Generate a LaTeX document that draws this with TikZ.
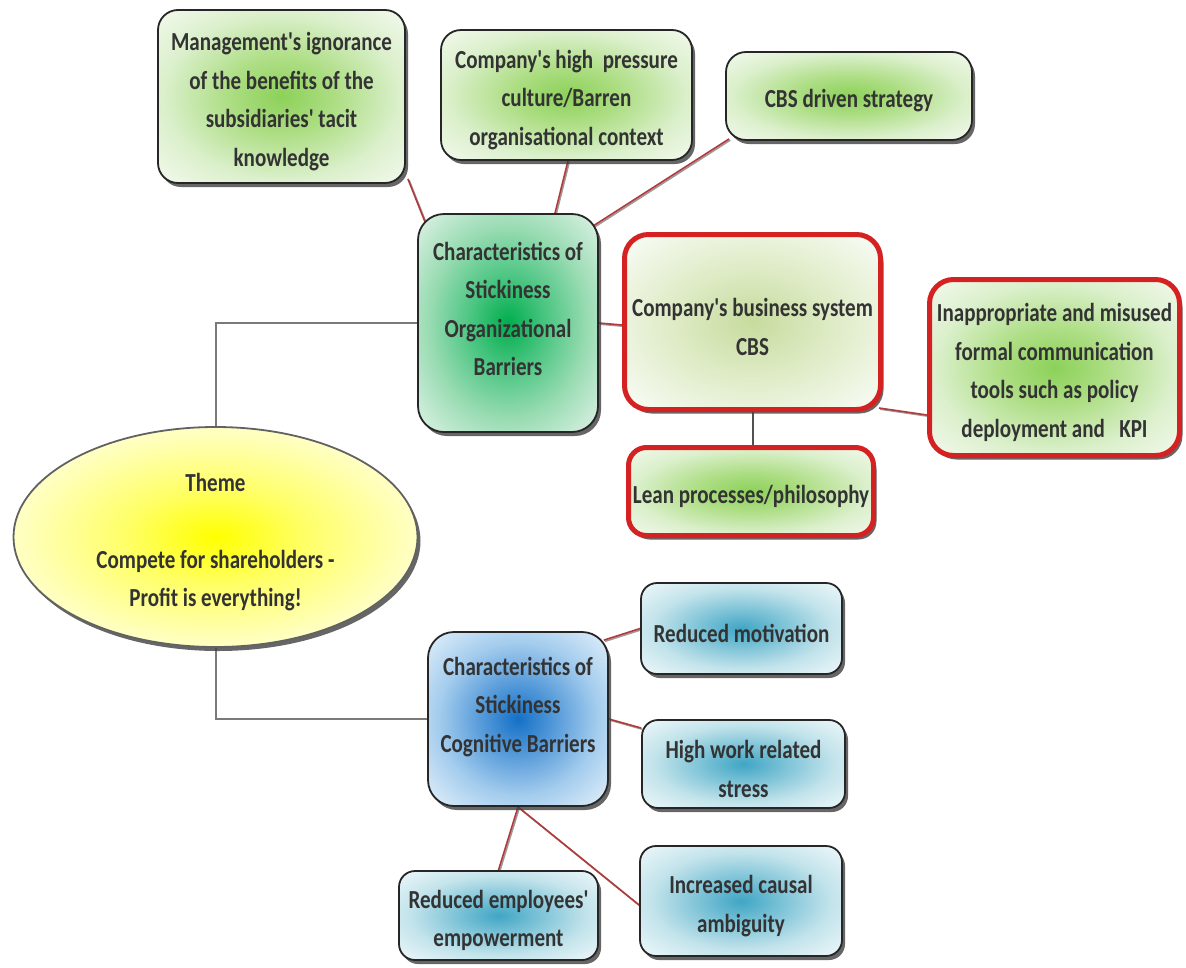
\documentclass[tikz,border=0pt]{standalone}
\usepackage{fontspec}
\newfontfamily\lab{Carlito Bold}[FakeStretch=0.81]
\usetikzlibrary{shapes.geometric,shadows}

\definecolor{ink}{HTML}{333333}
\definecolor{rim}{HTML}{262626}
\definecolor{alert}{HTML}{D42222}
\definecolor{linkred}{HTML}{B23A3A}
\definecolor{linkgrey}{HTML}{9A9A9A}
\definecolor{elbow}{HTML}{7A7A7A}

% taller first line, so the label block sits a little lower in its card
\newcommand\lift{\rule{0pt}{28pt}}

% soft glows used as node fills
\pgfdeclareradialshading{leaf}{\pgfpoint{0bp}{0bp}}{rgb(0bp)=(0.55,0.82,0.35); rgb(11bp)=(0.68,0.87,0.52); rgb(24bp)=(0.86,0.94,0.8); rgb(36bp)=(0.96,0.98,0.94); rgb(50bp)=(0.98,0.99,0.97)}
\pgfdeclareradialshading{olive}{\pgfpoint{0bp}{0bp}}{rgb(0bp)=(0.78,0.86,0.62); rgb(15bp)=(0.87,0.92,0.77); rgb(32bp)=(0.96,0.98,0.94); rgb(50bp)=(0.98,0.99,0.97)}
\pgfdeclareradialshading{emerald}{\pgfpoint{0bp}{0bp}}{rgb(0bp)=(0.0,0.68,0.30); rgb(10bp)=(0.28,0.77,0.5); rgb(22bp)=(0.6,0.86,0.7); rgb(35bp)=(0.87,0.95,0.9); rgb(50bp)=(0.9,0.96,0.92)}
\pgfdeclareradialshading{sunny}{\pgfpoint{0bp}{0bp}}{rgb(0bp)=(1,1,0); rgb(11bp)=(1,1,0.4); rgb(24bp)=(1,1,0.75); rgb(36bp)=(1,1,0.92); rgb(50bp)=(1,1,0.94)}
\pgfdeclareradialshading{ocean}{\pgfpoint{0bp}{0bp}}{rgb(0bp)=(0.08,0.44,0.78); rgb(10bp)=(0.33,0.6,0.85); rgb(22bp)=(0.64,0.8,0.93); rgb(35bp)=(0.89,0.94,0.98); rgb(50bp)=(0.92,0.96,0.99)}
\pgfdeclareradialshading{lagoon}{\pgfpoint{0bp}{0bp}}{rgb(0bp)=(0.25,0.65,0.77); rgb(10bp)=(0.48,0.76,0.84); rgb(22bp)=(0.76,0.89,0.92); rgb(35bp)=(0.93,0.97,0.98); rgb(50bp)=(0.95,0.98,0.99)}

\pgfdeclarelayer{bg}
\pgfsetlayers{bg,main}

\tikzset{
  x=1pt, y=-1pt,
  txt/.style={font=\lab\fontsize{26}{38.5}\selectfont, text=ink, align=center, inner sep=0pt},
  shade/.style={drop shadow={shadow xshift=3pt, shadow yshift=-4pt, fill=black!75, opacity=0.8}},
  card/.style={txt, shade, rectangle, rounded corners=20pt, draw=rim, line width=1.8pt},
  leafcard/.style={card, shading=leaf},
  alertcard/.style={card, draw=alert, line width=5pt, rounded corners=24pt},
  lagooncard/.style={card, shading=lagoon, rounded corners=16pt},
  link/.style={draw=linkred, line width=1.6pt,
    preaction={draw=linkgrey, line width=1.6pt, transform canvas={xshift=1.2pt, yshift=-1.2pt}}},
  trunk/.style={draw=elbow, line width=2pt}
}

\begin{document}
\begin{tikzpicture}
\useasboundingbox (0,0) rectangle (1186,967);

% upper branch: organisational barriers
\node[leafcard, minimum width=247pt, minimum height=173pt] (mgmt) at (281.5,96.5)
  {\lift Management's ignorance\\of the benefits of the\\subsidiaries' tacit\\knowledge};
\node[leafcard, minimum width=251pt, minimum height=130pt] (press) at (566.5,95)
  {\lift Company's high\ \ pressure\\culture/Barren\\organisational context};
\node[leafcard, minimum width=246pt, minimum height=88pt] (cbsd) at (849,96)
  {\lift CBS driven strategy};
\node[card, shading=emerald, minimum width=180pt, minimum height=218pt, rounded corners=26pt] (org) at (508,323)
  {\lift Characteristics of\\Stickiness\\Organizational\\Barriers\\\mbox{}};
\node[alertcard, shading=olive, minimum width=256pt, minimum height=175pt] (cbs) at (752.5,322)
  {\lift Company's business system\\CBS};
\node[alertcard, shading=leaf, minimum width=250pt, minimum height=176pt] (inap) at (1054.5,367.5)
  {\lift Inappropriate and misused\\formal communication\\tools such as policy\\deployment and\ \ \ KPI};
\node[alertcard, shading=leaf, minimum width=245pt, minimum height=88pt, rounded corners=18pt] (lean) at (751,491.5)
  {\lift Lean processes/philosophy};

% central theme
\node[txt, shade, ellipse, shading=sunny, draw=elbow!80!black, line width=1.8pt,
      minimum width=404pt, minimum height=220pt] (theme) at (215.5,537)
  {\lift Theme\\\mbox{}\\Compete for shareholders -\\Profit is everything!};

% lower branch: cognitive barriers
\node[card, shading=ocean, minimum width=180pt, minimum height=174pt, rounded corners=26pt] (cog) at (518,719)
  {\lift Characteristics of\\Stickiness\\Cognitive Barriers\\\mbox{}};
\node[lagooncard, minimum width=201pt, minimum height=91pt] (mot) at (741.5,628.5)
  {\lift Reduced motivation};
\node[lagooncard, minimum width=203pt, minimum height=88pt] (stress) at (743.5,764)
  {\lift High work related\\stress};
\node[lagooncard, minimum width=202pt, minimum height=110pt] (amb) at (741,901)
  {\lift Increased causal\\ambiguity};
\node[lagooncard, minimum width=199pt, minimum height=89pt] (emp) at (498.5,915.5)
  {\lift Reduced employees'\\empowerment};

% connectors, kept behind the cards
\begin{pgfonlayer}{bg}
  \draw[trunk] (theme.north) |- (org.west);
  \draw[trunk] (theme.south) |- (cog.west);

  \draw[link] ([xshift=2pt, yshift=5pt]mgmt.south east) -- ([xshift=10pt, yshift=-14pt]org.north west);
  \draw[link] ([xshift=1.5pt]press.south) -- ([xshift=47pt]org.north);
  \draw[link] ([xshift=4pt, yshift=2pt]cbsd.south west) -- ([xshift=-6pt, yshift=-13pt]org.north east);
  \draw[link] (org.east) -- ([yshift=-3pt]cbs.west);
  \draw[trunk, draw=rim!80] (cbs.south) -- (cbs.south |- lean.north);
  \draw[link] ([xshift=-4pt, yshift=4pt]cbs.south east) -- ([yshift=-47.5pt]inap.west);

  \draw[link] ([xshift=-5pt, yshift=-9pt]cog.north east) -- (mot.west);
  \draw[link] (cog.east) -- ([yshift=36pt]stress.west);
  \draw[link] (cog.south) -- (emp.north);
  \draw[link] (cog.south) -- ([yshift=-4pt]amb.west);
\end{pgfonlayer}
\end{tikzpicture}
\end{document}
